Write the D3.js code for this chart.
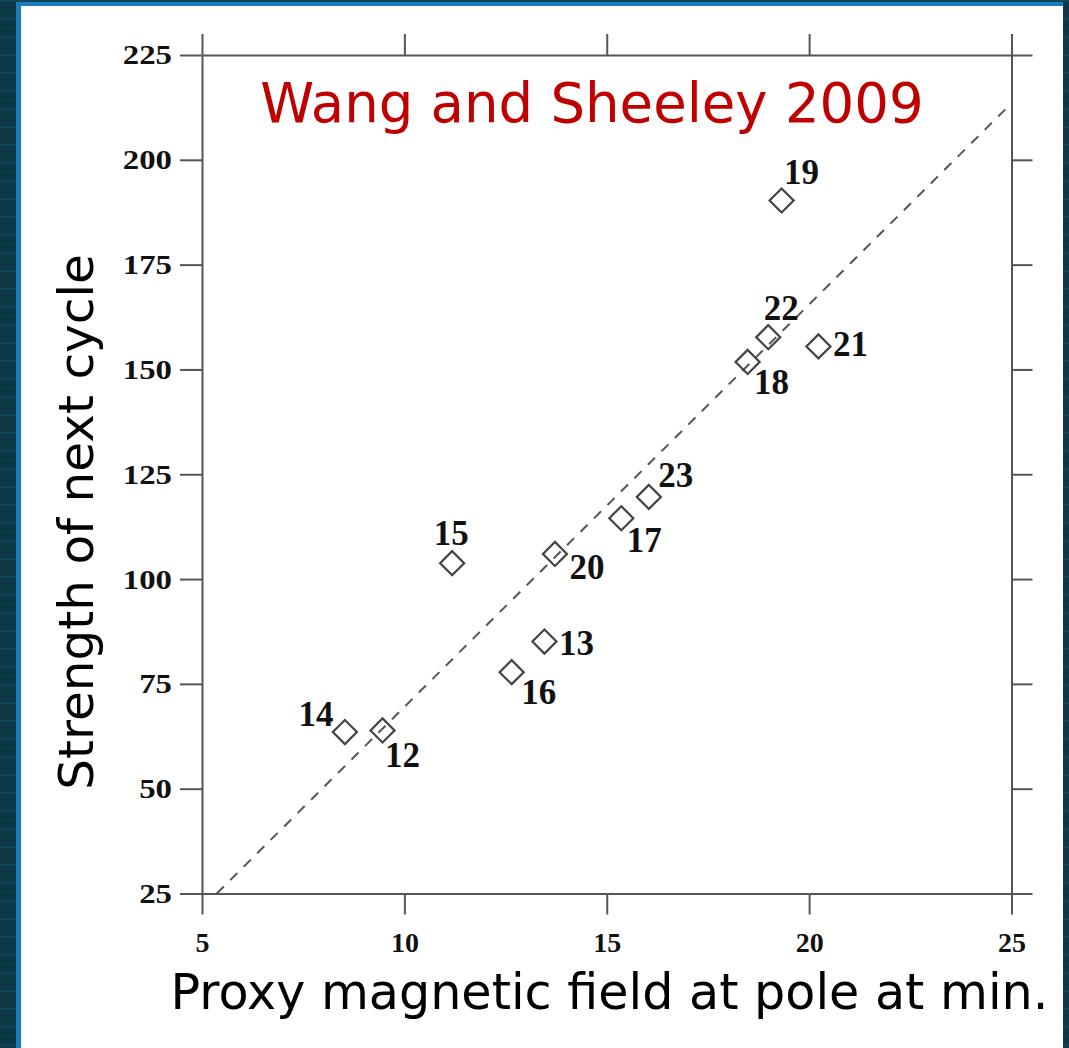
<!DOCTYPE html>
<html>
<head>
<meta charset="utf-8">
<script src="https://cdn.jsdelivr.net/npm/d3@7"></script>
<style>
  html, body { margin: 0; padding: 0; background: #0c3945; }
  svg { display: block; }
</style>
</head>
<body>
<svg id="chart" width="1069" height="1048"></svg>
<script>
// ---- data ----
const cycles   = ["12", "13", "14", "15", "16", "17", "18", "19", "20", "21", "22", "23"];
const proxyB   = [9.46, 13.46, 8.53, 11.18, 12.65, 15.36, 18.48, 19.32, 13.72, 20.23, 18.99, 16.04];
const strength = [63.9, 85.1, 63.5, 103.8, 77.8, 114.5, 151.8, 190.3, 106.0, 155.5, 157.7, 119.6];
const xTicks   = [5, 10, 15, 20, 25];
const yTicks   = [25, 50, 75, 100, 125, 150, 175, 200, 225];
const fitSlope = 9.6;
const fitIntercept = -26.5;
const titleText = "Wang and Sheeley 2009";
const xLabel = "Proxy magnetic field at pole at min.";
const yLabel = "Strength of next cycle";

// label placement (pixel offsets from marker centre) – styling only
const labelOffset = {
  "12": [20, 25], "13": [32, 2], "14": [-29, -18], "15": [-1, -30],
  "16": [27, 20], "17": [23, 22], "18": [24, 20], "19": [20, -28],
  "20": [32, 13], "21": [32, -2], "22": [13, -29], "23": [27, -22]
};

(function () {
const svg = d3.select("#chart");
const W = 1069, H = 1048;

// background with subtle stripes
svg.append("rect").attr("width", W).attr("height", H).attr("fill", "#0c3945");
const stripeRows = d3.range(0, H, 6);
svg.append("g").selectAll("rect").data(stripeRows).join("rect")
  .attr("x", 0).attr("y", d => d).attr("width", W).attr("height", 2)
  .attr("fill", (d, i) => i % 3 === 0 ? "#145060" : "#0a3440").attr("opacity", 0.6);

// white panel with blue edge
svg.append("rect").attr("x", 16).attr("y", 2).attr("width", 1047).attr("height", H)
  .attr("fill", "#1a7bbd");
svg.append("rect").attr("x", 21).attr("y", 6).attr("width", 1042).attr("height", H)
  .attr("fill", "#ffffff");

const mLeft = 202, mRight = 1011.5, mTop = 55, mBottom = 893.5;
const x = d3.scaleLinear().domain([5, 25]).range([mLeft, mRight]);
const y = d3.scaleLinear().domain([25, 225]).range([mBottom, mTop]);

const axisColor = "#555";
const tickFont = "'Liberation Serif', 'Times New Roman', serif";

function styleAxis(g, showLabels, digitW, fs) {
  g.selectAll(".domain").attr("stroke", axisColor).attr("stroke-width", 2);
  g.selectAll(".tick line").attr("stroke", axisColor).attr("stroke-width", 2);
  if (!showLabels) { g.selectAll(".tick text").remove(); return; }
  g.selectAll(".tick text")
    .attr("font-family", tickFont).attr("font-weight", "bold")
    .attr("font-size", fs).attr("fill", "#111")
    .attr("textLength", function () { return this.textContent.length * digitW; })
    .attr("lengthAdjust", "spacingAndGlyphs");
}

svg.append("g").attr("transform", `translate(0,${mBottom})`)
  .call(d3.axisBottom(x).tickValues(xTicks).tickSize(21).tickSizeOuter(0).tickPadding(18))
  .call(g => styleAxis(g, true, 14, 27));
svg.append("g").attr("transform", `translate(0,${mTop})`)
  .call(d3.axisTop(x).tickValues(xTicks).tickSize(21).tickSizeOuter(0))
  .call(g => styleAxis(g, false));
svg.append("g").attr("transform", `translate(${mLeft},0)`)
  .call(d3.axisLeft(y).tickValues(yTicks).tickSize(22).tickSizeOuter(0).tickPadding(8))
  .call(g => styleAxis(g, true, 16.4, 28));
svg.append("g").attr("transform", `translate(${mRight},0)`)
  .call(d3.axisRight(y).tickValues(yTicks).tickSize(21).tickSizeOuter(0))
  .call(g => styleAxis(g, false));

// fit line
const x0 = (25 - fitIntercept) / fitSlope;
const fitPts = [[x0, 25], [25, fitSlope * 25 + fitIntercept]];
svg.append("path")
  .attr("d", d3.line().x(d => x(d[0])).y(d => y(d[1]))(fitPts))
  .attr("fill", "none").attr("stroke", "#555").attr("stroke-width", 2)
  .attr("stroke-dasharray", "10,9");

// points
const pts = cycles.map((c, i) => ({ c, bx: proxyB[i], s: strength[i] }));
const diamond = d3.symbol().type(d3.symbolSquare).size(290);
svg.append("g").selectAll("path").data(pts).join("path")
  .attr("d", diamond)
  .attr("transform", d => `translate(${x(d.bx)},${y(d.s)}) rotate(45)`)
  .attr("fill", "none").attr("stroke", "#444").attr("stroke-width", 2.2);

svg.append("g").selectAll("text").data(pts).join("text")
  .attr("x", d => x(d.bx) + labelOffset[d.c][0])
  .attr("y", d => y(d.s) + labelOffset[d.c][1])
  .attr("dy", "0.34em")
  .attr("text-anchor", "middle")
  .attr("font-family", tickFont).attr("font-weight", "bold")
  .attr("font-size", 35).attr("fill", "#111")
  .text(d => d.c);

// title
svg.append("text").attr("x", 592).attr("y", 122)
  .attr("text-anchor", "middle")
  .attr("font-family", "'DejaVu Sans', sans-serif").attr("font-size", 54.5)
  .attr("fill", "#c00000").text(titleText);

// axis labels
svg.append("text").attr("x", 609.5).attr("y", 1009)
  .attr("text-anchor", "middle")
  .attr("font-family", "'DejaVu Sans', sans-serif").attr("font-size", 49.2)
  .attr("fill", "#000").text(xLabel);
svg.append("text")
  .attr("transform", "translate(93,522) rotate(-90)")
  .attr("text-anchor", "middle")
  .attr("font-family", "'DejaVu Sans', sans-serif").attr("font-size", 48.5)
  .attr("fill", "#000").text(yLabel);
})();
</script>
</body>
</html>
